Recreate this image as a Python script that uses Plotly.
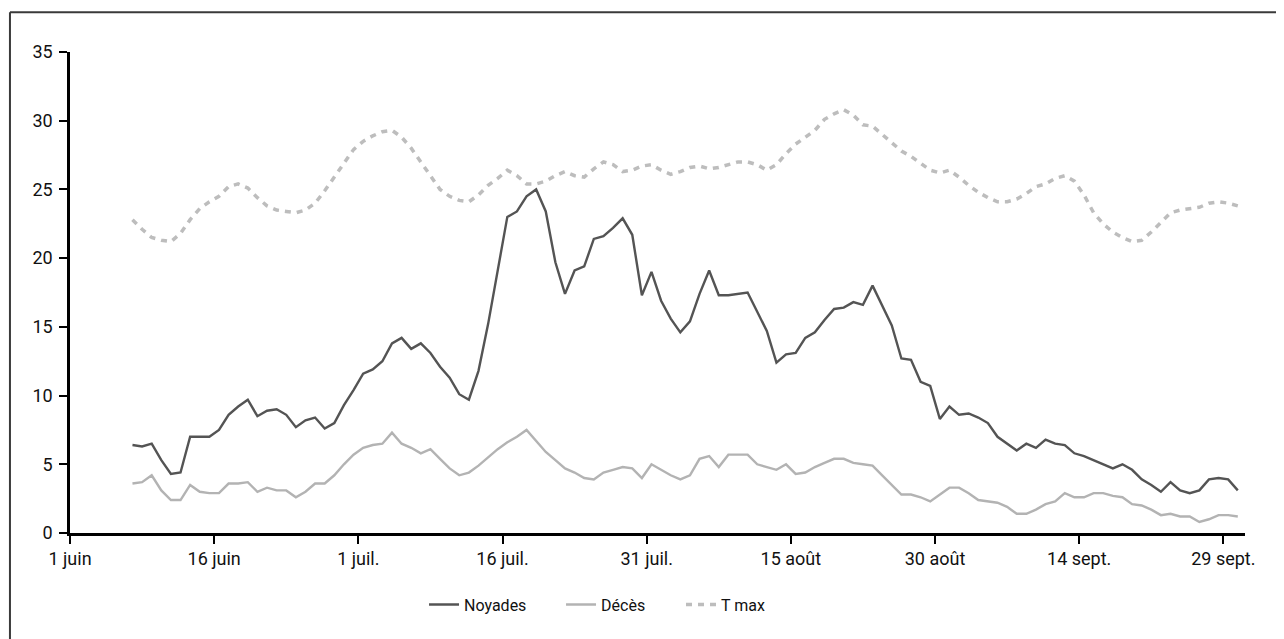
import pandas as pd
import plotly.graph_objects as go

# ---- data (daily values, 7 June -> 30 Sept) ----
start_date = "2023-06-07 12:00"

noyades = [6.4, 6.3, 6.5, 5.3, 4.3, 4.4, 7.0, 7.0, 7.0, 7.5,
           8.6, 9.2, 9.7, 8.5, 8.9, 9.0, 8.6, 7.7, 8.2, 8.4,
           7.6, 8.0, 9.3, 10.4, 11.6, 11.9, 12.5, 13.8, 14.2, 13.4,
           13.8, 13.1, 12.1, 11.3, 10.1, 9.7, 11.8, 15.2, 19.0, 23.0,
           23.4, 24.5, 25.0, 23.4, 19.7, 17.4, 19.1, 19.4, 21.4, 21.6,
           22.2, 22.9, 21.7, 17.3, 19.0, 16.9, 15.6, 14.6, 15.4, 17.4,
           19.1, 17.3, 17.3, 17.4, 17.5, 16.1, 14.7, 12.4, 13.0, 13.1,
           14.2, 14.6, 15.5, 16.3, 16.4, 16.8, 16.6, 18.0, 16.5, 15.1,
           12.7, 12.6, 11.0, 10.7, 8.3, 9.2, 8.6, 8.7, 8.4, 8.0,
           7.0, 6.5, 6.0, 6.5, 6.2, 6.8, 6.5, 6.4, 5.8, 5.6,
           5.3, 5.0, 4.7, 5.0, 4.6, 3.9, 3.5, 3.0, 3.7, 3.1,
           2.9, 3.1, 3.9, 4.0, 3.9, 3.1]

deces = [3.6, 3.7, 4.2, 3.1, 2.4, 2.4, 3.5, 3.0, 2.9, 2.9,
         3.6, 3.6, 3.7, 3.0, 3.3, 3.1, 3.1, 2.6, 3.0, 3.6,
         3.6, 4.2, 5.0, 5.7, 6.2, 6.4, 6.5, 7.3, 6.5, 6.2,
         5.8, 6.1, 5.4, 4.7, 4.2, 4.4, 4.9, 5.5, 6.1, 6.6,
         7.0, 7.5, 6.7, 5.9, 5.3, 4.7, 4.4, 4.0, 3.9, 4.4,
         4.6, 4.8, 4.7, 4.0, 5.0, 4.6, 4.2, 3.9, 4.2, 5.4,
         5.6, 4.8, 5.7, 5.7, 5.7, 5.0, 4.8, 4.6, 5.0, 4.3,
         4.4, 4.8, 5.1, 5.4, 5.4, 5.1, 5.0, 4.9, 4.2, 3.5,
         2.8, 2.8, 2.6, 2.3, 2.8, 3.3, 3.3, 2.9, 2.4, 2.3,
         2.2, 1.9, 1.4, 1.4, 1.7, 2.1, 2.3, 2.9, 2.6, 2.6,
         2.9, 2.9, 2.7, 2.6, 2.1, 2.0, 1.7, 1.3, 1.4, 1.2,
         1.2, 0.8, 1.0, 1.3, 1.3, 1.2]

tmax = [22.8, 22.1, 21.5, 21.3, 21.2, 21.8, 22.8, 23.6, 24.1, 24.5,
        25.2, 25.4, 25.1, 24.4, 23.8, 23.5, 23.4, 23.3, 23.5, 24.0,
        24.9, 25.9, 27.0, 27.9, 28.5, 28.9, 29.2, 29.3, 28.8, 28.0,
        27.0, 26.0, 25.0, 24.5, 24.2, 24.1, 24.6, 25.3, 25.8, 26.4,
        26.0, 25.4, 25.4, 25.6, 26.0, 26.3, 26.0, 25.9, 26.5, 27.0,
        26.8, 26.3, 26.4, 26.7, 26.8, 26.4, 26.1, 26.3, 26.6, 26.7,
        26.5, 26.6, 26.8, 27.0, 27.0, 26.8, 26.4, 26.8, 27.6, 28.3,
        28.8, 29.3, 30.1, 30.5, 30.8, 30.4, 29.7, 29.6, 29.0, 28.4,
        27.8, 27.4, 26.9, 26.4, 26.2, 26.4, 25.9, 25.3, 24.8, 24.4,
        24.1, 24.1, 24.3, 24.7, 25.2, 25.4, 25.8, 26.0, 25.6, 24.6,
        23.3, 22.5, 21.9, 21.5, 21.2, 21.3, 21.9, 22.6, 23.3, 23.5,
        23.6, 23.7, 24.0, 24.1, 24.0, 23.8]

tick_dates = ["2023-06-01", "2023-06-16", "2023-07-01", "2023-07-16", "2023-07-31",
              "2023-08-15", "2023-08-30", "2023-09-14", "2023-09-29"]
tick_labels = ["1 juin", "16 juin", "1 juil.", "16 juil.", "31 juil.",
               "15 août", "30 août", "14 sept.", "29 sept."]
y_ticks = [0, 5, 10, 15, 20, 25, 30, 35]

dates = pd.date_range(start=start_date, periods=len(noyades), freq="D")

FONT = "Roboto, 'Noto Sans', sans-serif"

fig = go.Figure()
fig.add_trace(go.Scatter(x=dates, y=noyades, name="Noyades", mode="lines", legend="legend",
                         line=dict(color="#545454", width=2.4)))
fig.add_trace(go.Scatter(x=dates, y=deces, name="Décès", mode="lines", legend="legend2",
                         line=dict(color="#b3b3b3", width=2.4)))
fig.add_trace(go.Scatter(x=dates, y=tmax, name="T max", mode="lines", legend="legend3",
                         line=dict(color="#bdbdbd", width=3.5, dash="6px,6px")))

leg_common = dict(orientation="h", xanchor="left", y=-0.149, yanchor="middle",
                  font=dict(size=16), bgcolor="rgba(0,0,0,0)")

fig.update_layout(
    width=1284, height=639,
    paper_bgcolor="white", plot_bgcolor="white",
    margin=dict(l=62, r=47, t=43.7, b=113.7),
    font=dict(family=FONT, size=18, color="#111111"),
    showlegend=True,
    legend=dict(x=0.3013, **leg_common),
    legend2=dict(x=0.4179, **leg_common),
    legend3=dict(x=0.52, **leg_common),
    xaxis=dict(range=["2023-06-01", "2023-10-01 06:00"], tickvals=tick_dates, ticktext=tick_labels,
               showgrid=False, zeroline=False, showline=True, linecolor="black", linewidth=2.5,
               ticks="outside", ticklen=8, tickwidth=2, tickcolor="black",
               tickfont=dict(size=18)),
    yaxis=dict(range=[0, 35], tickvals=y_ticks, showgrid=False, zeroline=False,
               showline=True, linecolor="black", linewidth=2.5,
               ticks="outside", ticklen=8, tickwidth=2, tickcolor="black",
               ticklabelstandoff=3, tickfont=dict(size=18)),
    shapes=[
        dict(type="line", xref="paper", yref="paper", x0=-0.0511, x1=1.04, y0=1.0824, y1=1.0824,
             line=dict(color="#3a3a3a", width=2)),
        dict(type="line", xref="paper", yref="paper", x0=-0.0511, x1=-0.0511, y0=1.0824, y1=-0.25,
             line=dict(color="#3a3a3a", width=2)),
    ],
)

fig.write_html("out.html")
